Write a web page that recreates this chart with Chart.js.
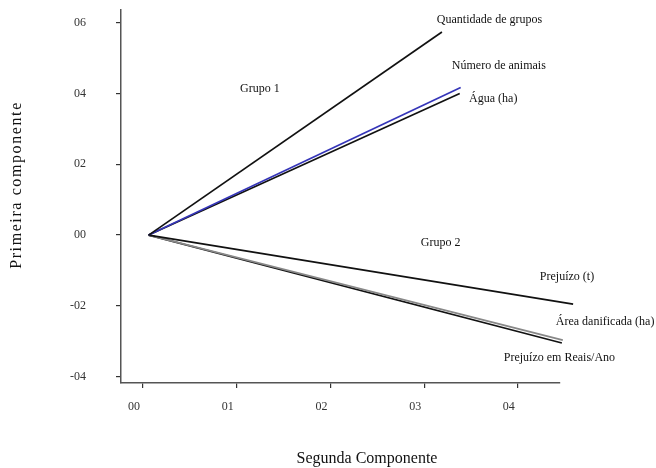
<!DOCTYPE html>
<html>
<head>
<meta charset="utf-8">
<script src="https://cdn.jsdelivr.net/npm/chart.js@4/dist/chart.umd.min.js"></script>
<style>
  body { margin: 0; background: #fff; }
  #wrap { width: 656px; height: 468px; position: relative; }
</style>
</head>
<body>
<div id="wrap"><canvas id="pcaChart"></canvas></div>
<script>
// variable vectors (origin -> end point)
const varNames = ['Quantidade de grupos', 'Número de animais', 'Água (ha)', 'Prejuízo (t)', 'Área danificada (ha)', 'Prejuízo em Reais/Ano'];
const startX = [0.006, 0.006, 0.006, 0.006, 0.006, 0.006];
const startY = [0.0, 0.0, 0.0, 0.0, 0.0, 0.0];
const endX = [0.319, 0.339, 0.338, 0.459, 0.448, 0.447];
const endY = [0.574, 0.417, 0.400, -0.195, -0.297, -0.305];
const lineColors = ['#111', '#3535b8', '#111', '#111', '#888', '#111'];

// text labels in data units
const labelTexts = ['Quantidade de grupos', 'Número de animais', 'Água (ha)', 'Grupo 1', 'Grupo 2', 'Prejuízo (t)', 'Área danificada (ha)', 'Prejuízo em Reais/Ano'];
const labelX = [0.3136, 0.3296, 0.348, 0.1035, 0.2965, 0.4235, 0.4405, 0.385];
const labelY = [0.607, 0.477, 0.384, 0.412, -0.0226, -0.1186, -0.2458, -0.347];

const xTicks = [0, 0.1, 0.2, 0.3, 0.4];
const xTickLabels = ['00', '01', '02', '03', '04'];
const yTicks = [-0.4, -0.2, 0, 0.2, 0.4, 0.6];
const yTickLabels = ['-04', '-02', '00', '02', '04', '06'];

const xTitle = 'Segunda Componente';
const yTitle = 'Primeira componente';

const serif = '"Liberation Serif", "Times New Roman", serif';

const datasets = varNames.map((name, i) => ({
    label: name,
    data: [{x: startX[i], y: startY[i]}, {x: endX[i], y: endY[i]}],
    borderColor: lineColors[i],
    borderWidth: 1.7,
    showLine: true,
    pointRadius: 0,
    fill: false,
    clip: false
}));

const textLabels = {
    id: 'textLabels',
    afterDraw(chart) {
        const ctx = chart.ctx;
        const xs = chart.scales.x, ys = chart.scales.y;
        ctx.save();
        ctx.fillStyle = '#111';
        ctx.font = '12px ' + serif;
        ctx.textAlign = 'left';
        ctx.textBaseline = 'middle';
        labelTexts.forEach((t, i) => {
            ctx.fillText(t, xs.getPixelForValue(labelX[i]), ys.getPixelForValue(labelY[i]));
        });

        // axis titles (off-centre in the original)
        ctx.font = '16px ' + serif;
        ctx.textAlign = 'center';
        ctx.fillText(xTitle, 367, 459);
        ctx.translate(17, 185);
        ctx.rotate(-Math.PI / 2);
        ctx.letterSpacing = '1.6px';
        ctx.fillText(yTitle, 0, 0);
        ctx.restore();
    }
};

new Chart(document.getElementById('pcaChart').getContext('2d'), {
    type: 'scatter',
    data: { datasets: datasets },
    options: {
        responsive: true,
        maintainAspectRatio: false,
        animation: false,
        layout: { padding: { left: 0, top: 10, right: 96, bottom: 0 } },
        plugins: { legend: { display: false }, tooltip: { enabled: false } },
        scales: {
            x: {
                type: 'linear',
                min: -0.0235,
                max: 0.445,
                afterFit: (scale) => { scale.height = 85; },
                afterBuildTicks: (scale) => { scale.ticks = xTicks.map(v => ({value: v})); },
                grid: { drawOnChartArea: false, drawTicks: true, tickLength: 5, color: '#333', lineWidth: 1.2 },
                border: { display: true, color: '#555', width: 1.5 },
                ticks: {
                    padding: 12,
                    labelOffset: -9,
                    color: '#333',
                    font: { family: serif, size: 12 },
                    callback: (v) => xTickLabels[xTicks.indexOf(v)]
                }
            },
            y: {
                type: 'linear',
                min: -0.418,
                max: 0.636,
                afterFit: (scale) => {
                    scale.width = 121;
                    // tick padding would otherwise push the plot top down
                    scale.paddingTop = 0;
                    scale.paddingBottom = 0;
                },
                afterBuildTicks: (scale) => { scale.ticks = yTicks.map(v => ({value: v})); },
                grid: { drawOnChartArea: false, drawTicks: true, tickLength: 5, color: '#333', lineWidth: 1.2 },
                border: { display: true, color: '#555', width: 1.5 },
                ticks: {
                    padding: 30,
                    color: '#333',
                    font: { family: serif, size: 12 },
                    callback: (v) => yTickLabels[yTicks.indexOf(v)]
                }
            }
        }
    },
    plugins: [textLabels]
});
</script>
</body>
</html>
